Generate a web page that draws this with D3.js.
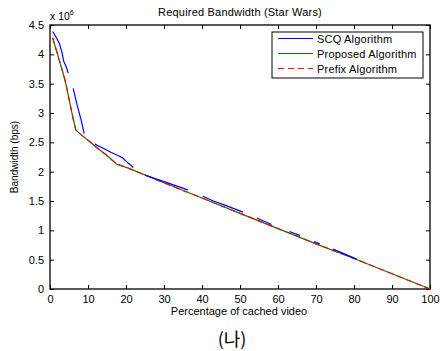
<!DOCTYPE html>
<html lang="en">
<head>
<meta charset="UTF-8">
<title>Required Bandwidth (Star Wars)</title>
<script src="https://d3js.org/d3.v7.min.js"></script>
<style>
  body { margin: 0; background: #fff; }
  svg { display: block; font-family: "Liberation Sans", Arial, sans-serif; }
</style>
</head>
<body>
<svg id="chart"></svg>
<script>
const width = 442, height = 351;
const margin = { left: 50, top: 25, right: 12, bottom: 62 };

// ==== data (percentage of cached video, bandwidth in 1e6 bps) ====
const xTicks = [0, 10, 20, 30, 40, 50, 60, 70, 80, 90, 100];
const yTicks = [0, 0.5, 1, 1.5, 2, 2.5, 3, 3.5, 4, 4.5];

const proposed = [
  [0.7, 4.28], [2, 4.0], [4, 3.55], [6, 2.93], [6.8, 2.71], [8, 2.64],
  [10.5, 2.51], [12.5, 2.40], [14.9, 2.28], [17.5, 2.13], [20.6, 2.06],
  [30, 1.81], [40, 1.55], [50, 1.29], [60, 1.03], [70, 0.77],
  [80, 0.52], [90, 0.26], [100, 0]
];
const prefix = proposed;

// SCQ is drawn as separate pieces
const scq = [
  [[0.7, 4.39], [1.8, 4.27], [2.5, 4.18], [3.2, 4.02], [3.6, 3.88], [4.2, 3.8], [4.8, 3.68]],
  [[6.1, 3.42], [7.2, 3.12], [8.2, 2.88], [9.0, 2.65]],
  [[11.8, 2.47], [14, 2.40], [16, 2.33], [18, 2.27], [19, 2.24], [20, 2.18], [21.9, 2.07]],
  [[25, 1.94], [30, 1.83], [36.3, 1.69]],
  [[40.2, 1.58], [43, 1.50], [46, 1.43], [50.8, 1.31]],
  [[54.4, 1.21], [58.3, 1.10]],
  [[63, 0.98], [65.8, 0.91]],
  [[69.5, 0.81], [71, 0.77]],
  [[74.5, 0.68], [80.7, 0.51]]
];

const legendItems = [
  { name: "SCQ Algorithm", color: "#0000ff", dash: null },
  { name: "Proposed Algorithm", color: "#008000", dash: null },
  { name: "Prefix Algorithm", color: "#ff0000", dash: "6,4" }
];

const svg = d3.select("#chart").attr("width", width).attr("height", height);
const x = d3.scaleLinear().domain([0, 100]).range([margin.left, width - margin.right]);
const y = d3.scaleLinear().domain([0, 4.5]).range([height - margin.bottom, margin.top]);
const x0 = x(0), x1 = x(100), y0 = y(0), y1 = y(4.5);

// axes (ticks pointing inward, box on)
const fmtY = d => d3.format("")(d);
svg.append("g").attr("transform", `translate(0,${y0})`)
  .call(d3.axisBottom(x).tickValues(xTicks).tickSizeInner(-4).tickSizeOuter(0).tickPadding(6))
  .call(g => g.select(".domain").remove());
svg.append("g").attr("transform", `translate(${x0},0)`)
  .call(d3.axisLeft(y).tickValues(yTicks).tickFormat(fmtY).tickSizeInner(-4).tickSizeOuter(0).tickPadding(6))
  .call(g => g.select(".domain").remove());
svg.append("g").attr("transform", `translate(0,${y1})`)
  .call(d3.axisTop(x).tickValues(xTicks).tickSizeInner(-4).tickSizeOuter(0).tickFormat(""))
  .call(g => g.select(".domain").remove());
svg.append("g").attr("transform", `translate(${x1},0)`)
  .call(d3.axisRight(y).tickValues(yTicks).tickSizeInner(-4).tickSizeOuter(0).tickFormat(""))
  .call(g => g.select(".domain").remove());
svg.selectAll(".tick text").attr("font-size", 11).attr("fill", "#000")
  .attr("font-family", "Liberation Sans, Arial, sans-serif");
svg.selectAll(".tick line").attr("stroke", "#000");

svg.append("rect")
  .attr("x", x0).attr("y", y1).attr("width", x1 - x0).attr("height", y0 - y1)
  .attr("fill", "none").attr("stroke", "#000").attr("stroke-width", 1.3);

// lines
const line = d3.line().x(d => x(d[0])).y(d => y(d[1]));
svg.append("path").datum(proposed).attr("d", line)
  .attr("fill", "none").attr("stroke", "#008000").attr("stroke-width", 1.2);
svg.append("path").datum(prefix).attr("d", line)
  .attr("fill", "none").attr("stroke", "#ff0000").attr("stroke-width", 1.2).attr("stroke-dasharray", "6,4");
svg.selectAll(".scq").data(scq).enter().append("path")
  .attr("d", line).attr("fill", "none").attr("stroke", "#0000ff").attr("stroke-width", 1.2);

// texts
svg.append("text").attr("x", 240).attr("y", 16).attr("text-anchor", "middle")
  .attr("font-size", 11).attr("letter-spacing", 0.2).text("Required Bandwidth (Star Wars)");
const mult = svg.append("text").attr("x", 50).attr("y", 20).attr("font-size", 10.5);
mult.append("tspan").text("x 10");
mult.append("tspan").attr("font-size", 7).attr("dy", -5).text("6");
svg.append("text").attr("x", 239).attr("y", 315).attr("text-anchor", "middle")
  .attr("font-size", 11).text("Percentage of cached video");
svg.append("text").attr("transform", `translate(18,${(y0 + y1) / 2}) rotate(-90)`)
  .attr("text-anchor", "middle").attr("font-size", 10).text("Bandwidth (bps)");
svg.append("text").attr("x", 232).attr("y", 346).attr("text-anchor", "middle")
  .attr("font-size", 18).attr("font-family", "Noto Sans CJK KR, sans-serif").text("(나)");

// legend
const lg = svg.append("g");
lg.append("rect").attr("x", 272).attr("y", 32).attr("width", 151).attr("height", 46)
  .attr("fill", "#fff").attr("stroke", "#000").attr("stroke-width", 1);
legendItems.forEach((d, i) => {
  const ly = 38.5 + i * 15;
  lg.append("line").attr("x1", 278).attr("x2", 313).attr("y1", ly).attr("y2", ly)
    .attr("stroke", d.color).attr("stroke-width", 1.2).attr("stroke-dasharray", d.dash);
  lg.append("text").attr("x", 317).attr("y", ly + 4).attr("font-size", 11)
    .attr("letter-spacing", 0.2).text(d.name);
});
</script>
</body>
</html>
